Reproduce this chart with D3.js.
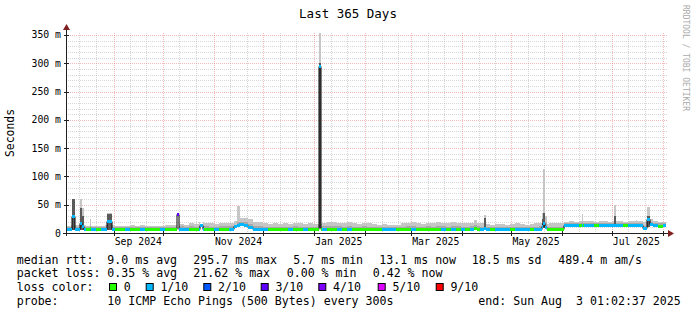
<!DOCTYPE html>
<html><head><meta charset="utf-8">
<script src="https://cdn.jsdelivr.net/npm/d3@7"></script>
<style>
body{margin:0;background:#fff}
svg{display:block}
text{font-family:"DejaVu Sans Mono",monospace;fill:#000}
</style>
</head><body><svg id="c" width="697" height="315"></svg>
<script>
// ---------------- data ----------------
const startTime = new Date(2024, 7, 3, 1, 2, 37);
const endTime = new Date(2025, 7, 3, 1, 2, 37);
const sampleDays = 3;
const yTicks = [0, 50, 100, 150, 200, 250, 300, 350];
const yTickLabels = ["0", "50 m", "100 m", "150 m", "200 m", "250 m", "300 m", "350 m"];
const xLabelMonths = [new Date(2024,8,1), new Date(2024,10,1), new Date(2025,0,1), new Date(2025,2,1), new Date(2025,4,1), new Date(2025,6,1)];
const xLabels = ["Sep 2024", "Nov 2024", "Jan 2025", "Mar 2025", "May 2025", "Jul 2025"];

// median rtt (ms), one value per 3 days
const median = [
 7.6,7.5,7.8,7.5,7.4,7.6,7.5,7.7,7.6,7.5,
 7.4,7.5,7.3,7.4,7.5,7.4,7.3,7.4,7.5,7.4,
 7.5,7.4,7.6,7.5,7.7,7.6,7.5,7.8,7.6,7.5,
 7.6,7.5,7.7,7.8,
 12,15.2,15,11,
 7.6,7.5,7.4,7.5,7.4,7.3,7.4,7.5,7.4,7.3,
 7.4,7.5,7.6,7.5,7.6,7.5,7.4,7.6,7.5,7.4,
 7.3,7.4,7.5,7.4,7.3,7.2,7.3,7.4,7.3,7.4,
 7.5,7.4,7.6,7.5,7.4,7.5,7.6,7.5,7.4,7.5,
 7.4,7.5,7.6,7.5,7.4,7.3,7.4,7.5,7.3,7.2,
 7.3,7.2,7.3,7.2,7.1,7.2,7.3,7.2,7.6,7.4,
 7.3,7.2,7.4,
 13.8,14,14.1,14,13.9,14,14.1,14,13.9,14,
 14.1,14,13.9,14,14.1,13.8,
 8,16,13.4,13.2,13.3
];
// top of the darker smoke (ms)
const smokeMid = [
 10,11,11,11,10,10,10,10,11,11,
 10,10,10,11,10,11,10,10,10,10,
 11,11,11,12,11,12,11,13,12,11,
 11,12,12,12,
 15,19,19,16,
 13,12,11,11,11,10,11,10,12,11,
 10,11,11,11,12,13,12,12,11,12,
 11,10,12,11,10,10,10,10,10,10,
 11,12,13,11,11,12,11,13,12,11,
 12,12,11,11,12,12,11,10,10,10,
 10,10,10,11,10,10,10,11,12,10,
 11,11,11,
 17,18,17,18,18,18,17,18,18,17,
 18,18,17,18,18,18,
 13,20,17,17,17
];
// top of the light smoke (ms)
const smokeHi = [
 12,14,14,14,13,12,13,12,14,14,
 12,13,13,14,13,14,13,13,12,13,
 14,14,15,16,15,17,16,19,18,17,
 16,17,18,17,
 22,26,26,24,
 20,20,18,16,17,16,17,16,18,17,
 16,17,16,16,18,20,19,18,17,19,
 17,16,18,17,16,15,16,15,14,15,
 17,18,19,17,16,18,17,20,18,17,
 19,18,17,17,18,18,17,16,15,16,
 16,15,16,17,16,15,16,17,18,16,
 17,18,17,
 20,21,20,21,22,21,20,21,21,20,
 21,21,20,21,22,21,
 20,24,21,20,20
];
// loss bucket index per sample
const lossIdx = [
 1,1,1,1,0,1,0,1,1,1,
 0,0,1,0,0,1,0,0,0,1,
 0,0,0,1,1,0,0,1,0,0,
 1,0,0,1,1,1,1,1,1,1,
 1,0,0,0,0,1,0,0,1,0,
 0,0,1,0,0,1,0,1,0,0,
 0,0,0,0,1,1,1,0,0,0,
 1,0,0,0,0,0,1,0,1,0,
 1,0,1,0,1,1,0,1,1,1,
 0,1,1,1,0,1,1,0,0,0,
 0,1,1,1,0,1,1,0,1,1,
 1,1,1,0,1,1,1,1,1,1,
 0,1
];
// short events (day offsets from start)
const spikeD0   = [3.95, 8.8, 10.0, 14.3, 25.2, 67.5, 81.5, 104.3, 153.9, 248.2, 254.0, 289.3, 290.0, 291.4, 314.2, 333.4, 346.7, 353.4];
const spikeD1   = [5.5, 10.0, 11.25, 14.9, 28.0, 69.0, 83.3, 105.2, 155.1, 250.0, 255.2, 290.0, 291.4, 292.6, 314.8, 334.3, 347.3, 355.2];
const spikeMed  = [30, 18, 12, 8, 22, 33, 14, 15, 295.7, 8, 8, 12, 18, 10, 14, 14, 14, 25];
const spikeLo   = [6, 6, 6, 8, 6, 33, 14, 15, 8, 8, 8, 8, 8, 8, 14, 14, 14, 10];
const spikeMid  = [60, 45, 30, 12, 33, 33, 14, 20, 300, 15, 26, 25, 36, 20, 20, 30, 18, 30];
const spikeHi   = [60, 60, 44, 24, 35, 33, 16, 48, 353.5, 23, 32, 36, 113, 30, 34, 50, 23, 46];
const spikeLoss = [1, 1, 1, 0, 1, 3, 1, 1, 1, 0, 1, 1, 1, 1, 1, 1, 1, 1];

const lossColors = ["#26ff00", "#00b8ff", "#0059ff", "#5e00ff", "#7e00ff", "#dd00ff", "#ff0000"];
const lossLabels = ["0", "1/10", "2/10", "3/10", "4/10", "5/10", "9/10"];

const legendRows = [
  ["median rtt:", "9.0 ms avg", "295.7 ms max", "5.7 ms min", "13.1 ms now", "18.5 ms sd", "489.4 m am/s"],
  ["packet loss:", "0.35 % avg", "21.62 % max", "0.00 % min", "0.42 % now"],
];
const probeText = "10 ICMP Echo Pings (500 Bytes) every 300s";
const endText = "end: Sun Aug  3 01:02:37 2025";

// ---------------- layout ----------------
const L = 66, R = 666, T = 33, B = 233;
const svg = d3.select("#c");
svg.append("rect").attr("width", 697).attr("height", 315).attr("fill", "#fff");

const x = d3.scaleTime().domain([startTime, endTime]).range([L, R]);
const y = d3.scaleLinear().domain([0, 353.5]).range([B, T]);
const dayMs = 864e5;
const tOf = d => new Date(startTime.getTime() + d * dayMs);
const px = d => x(tOf(d));

// ---------------- grid ----------------
const minorCol = "rgba(150,150,150,0.38)";
const majorCol = "rgba(225,90,90,0.42)";
const grid = svg.append("g").attr("shape-rendering", "crispEdges");
for (let v = 10; v <= 350; v += 10) {
  if (v % 50 === 0) continue;
  const yy = Math.round(y(v)) + 0.5;
  grid.append("line").attr("x1", L).attr("x2", R + 2).attr("y1", yy).attr("y2", yy)
    .attr("stroke", minorCol).attr("stroke-dasharray", "1,1");
}
const minorDates = [];
const majorDates = [];
for (let m = new Date(2024, 7, 1); m <= endTime; m = new Date(m.getFullYear(), m.getMonth() + 1, 1)) {
  if (m > startTime) majorDates.push(m);
  [11, 21].forEach(dd => {
    const dt = new Date(m.getFullYear(), m.getMonth(), dd);
    if (dt > startTime && dt < endTime) minorDates.push(dt);
  });
}
minorDates.forEach(dt => {
  const xx = Math.round(x(dt)) + 0.5;
  grid.append("line").attr("x1", xx).attr("x2", xx).attr("y1", T).attr("y2", B)
    .attr("stroke", minorCol).attr("stroke-dasharray", "1,1");
});
yTicks.forEach(v => {
  if (v === 0) return;
  const yy = Math.round(y(v)) + 0.5;
  grid.append("line").attr("x1", L).attr("x2", R + 2).attr("y1", yy).attr("y2", yy)
    .attr("stroke", majorCol).attr("stroke-dasharray", "1,1");
});
majorDates.forEach(dt => {
  const xx = Math.round(x(dt)) + 0.5;
  grid.append("line").attr("x1", xx).attr("x2", xx).attr("y1", T).attr("y2", B)
    .attr("stroke", majorCol).attr("stroke-dasharray", "1,1");
});

// ---------------- data segments ----------------
const bset = new Set();
for (let i = 0; i < median.length; i++) bset.add(i * sampleDays);
bset.add(365);
spikeD0.forEach((d, k) => { bset.add(d); bset.add(spikeD1[k]); });
const bs = [...bset].sort((a, b) => a - b);
const segs = [];
for (let j = 0; j < bs.length - 1; j++) {
  const a = bs[j], b = bs[j + 1], m = (a + b) / 2;
  const k = spikeD0.findIndex((d, kk) => m > d && m < spikeD1[kk]);
  if (k >= 0) segs.push({a, b, med: spikeMed[k], lo: spikeLo[k], mid: spikeMid[k], hi: spikeHi[k], loss: spikeLoss[k]});
  else {
    const i = Math.min(median.length - 1, Math.floor(m / sampleDays));
    segs.push({a, b, med: median[i], lo: median[i], mid: smokeMid[i], hi: smokeHi[i], loss: lossIdx[i]});
  }
}
segs.forEach(s => {
  s.x0 = Math.round(px(s.a));
  s.x1 = Math.max(s.x0 + 1, Math.round(px(s.b)));
});

svg.append("clipPath").attr("id", "clip").append("rect")
  .attr("x", L).attr("y", T - 1).attr("width", R - L + 1).attr("height", B - T + 1);
const data = svg.append("g").attr("clip-path", "url(#clip)");

data.append("g").selectAll("rect").data(segs.filter(s => s.hi > s.lo)).join("rect")
  .attr("x", s => s.x0).attr("width", s => s.x1 - s.x0)
  .attr("y", s => y(s.hi)).attr("height", s => y(s.lo) - y(s.hi))
  .attr("fill", "#c6c6c6").attr("shape-rendering", "crispEdges");
data.append("g").selectAll("rect").data(segs.filter(s => s.mid > s.lo)).join("rect")
  .attr("x", s => s.x0).attr("width", s => s.x1 - s.x0)
  .attr("y", s => y(s.mid)).attr("height", s => y(s.lo) - y(s.mid))
  .attr("fill", s => (s.mid - s.lo > 15 ? "#5a5a5a" : "#a8a8a8")).attr("shape-rendering", "crispEdges");

let dPath = "";
segs.forEach((s, j) => {
  const yy = Math.round(y(s.med)) + 0.5;
  if (j === 0) dPath += `M${s.x0},${yy}`;
  else dPath += `V${yy}`;
  dPath += `H${s.x1}`;
});
data.append("path").attr("d", dPath).attr("fill", "none").attr("stroke", "#000").attr("stroke-width", 1);

data.append("g").selectAll("rect").data(segs).join("rect")
  .attr("x", s => s.x0).attr("width", s => s.x1 - s.x0)
  .attr("y", s => Math.round(y(s.med)) - 1).attr("height", 3)
  .attr("fill", s => lossColors[s.loss]).attr("shape-rendering", "crispEdges");

// ---------------- axes ----------------
const axisCol = "#202020";
svg.append("line").attr("x1", L - 3).attr("x2", R + 3).attr("y1", B + 0.5).attr("y2", B + 0.5).attr("stroke", axisCol);
svg.append("line").attr("x1", L + 0.5).attr("x2", L + 0.5).attr("y1", B + 3).attr("y2", T - 4).attr("stroke", axisCol);
svg.append("path").attr("d", `M${R + 2},${B - 3} L${R + 8},${B + 0.5} L${R + 2},${B + 4} Z`).attr("fill", "#7f1f1f");
svg.append("path").attr("d", `M${L - 3},${T - 3} L${L + 0.5},${T - 9} L${L + 4},${T - 3} Z`).attr("fill", "#7f1f1f");

yTicks.forEach(v => {
  const yy = Math.round(y(v)) + 0.5;
  svg.append("line").attr("x1", L - 2).attr("x2", L + 3).attr("y1", yy).attr("y2", yy).attr("stroke", axisCol);
});
majorDates.forEach(dt => {
  const xx = Math.round(x(dt)) + 0.5;
  svg.append("line").attr("x1", xx).attr("x2", xx).attr("y1", B - 2).attr("y2", B + 3).attr("stroke", axisCol);
});

yTicks.forEach((v, i) => {
  svg.append("text").attr("x", 61).attr("y", y(v) + 3.5).attr("text-anchor", "end")
    .attr("font-size", "9.8px").text(yTickLabels[i]);
});
xLabelMonths.forEach((dt, i) => {
  const lab = new Date(dt.getTime() + 15 * dayMs);
  svg.append("text").attr("x", x(lab)).attr("y", 245).attr("text-anchor", "middle")
    .attr("font-size", "9.8px").text(xLabels[i]);
});

svg.append("text").attr("x", 348).attr("y", 18).attr("text-anchor", "middle").attr("font-size", "12.5px").text("Last 365 Days");
svg.append("text").attr("transform", `translate(14,${(T + B) / 2}) rotate(-90)`).attr("text-anchor", "middle")
  .attr("font-size", "11.4px").text("Seconds");
svg.append("text").attr("transform", `translate(683,5) rotate(90)`).attr("text-anchor", "start")
  .attr("font-size", "8px").style("fill", "#aaaaaa").text("RRDTOOL / TOBI OETIKER");

// ---------------- legend ----------------
const lf = "11.6px";
const legendX = [[16.7, 107.3, 193.3, 293.3, 379.3, 471.7, 558.3], [16.7, 107.3, 193.3, 286.7, 372.7]];
const rowY = [263.5, 277, 291, 304.5];
legendRows.forEach((row, r) => {
  row.forEach((s, c) => {
    svg.append("text").attr("x", legendX[r][c]).attr("y", rowY[r]).attr("font-size", lf)
      .attr("xml:space", "preserve").style("white-space", "pre").text(s);
  });
});
svg.append("text").attr("x", 16.7).attr("y", rowY[2]).attr("font-size", lf).text("loss color:");
const boxX = [109, 145.7, 203.3, 260.7, 318.3, 377.7, 435.7];
lossLabels.forEach((lab, i) => {
  svg.append("rect").attr("x", boxX[i] + 0.5).attr("y", 283.5).attr("width", 7).attr("height", 7)
    .attr("fill", lossColors[i]).attr("stroke", "#000").attr("stroke-width", 1);
  svg.append("text").attr("x", boxX[i] + 14.7).attr("y", rowY[2]).attr("font-size", lf).text(lab);
});
svg.append("text").attr("x", 16.7).attr("y", rowY[3]).attr("font-size", lf).text("probe:");
svg.append("text").attr("x", 107.3).attr("y", rowY[3]).attr("font-size", lf).text(probeText);
svg.append("text").attr("x", 478.3).attr("y", rowY[3]).attr("font-size", lf)
  .attr("xml:space", "preserve").style("white-space", "pre").text(endText);
</script>
</body></html>
